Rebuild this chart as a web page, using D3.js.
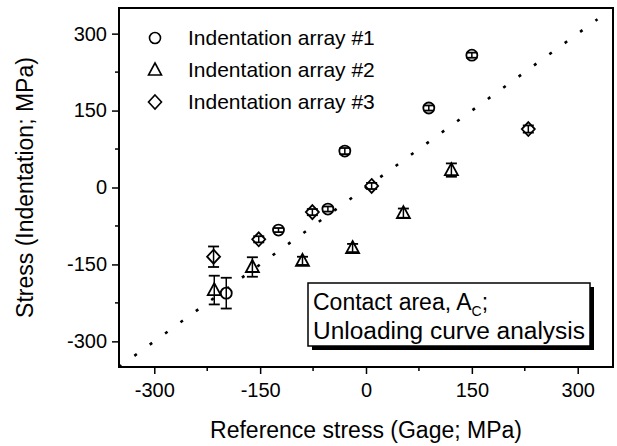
<!DOCTYPE html>
<html>
<head>
<meta charset="utf-8">
<script src="https://cdn.jsdelivr.net/npm/d3@7/dist/d3.min.js"></script>
<style>
  body { margin: 0; background: #fff; }
  svg { display: block; font-family: "Liberation Sans", Arial, sans-serif; }
</style>
</head>
<body>
<svg id="chart" width="617" height="446"></svg>
<script>
// data (MPa)
var seriesNames = ["Indentation array #1", "Indentation array #2", "Indentation array #3"];
var array1X = [150, 89, -30, -54, -124, -198];
var array1Y = [258, 155, 71, -42, -83, -206];
var array1Err = [5, 5, 6, 5, 4, 30];
var array2X = [121, 53, -19, -90, -161, -215];
var array2Y = [34, -50, -118, -143, -155, -200];
var array2Err = [13, 9, 8, 8, 19, 28];
var array3X = [230, 8, -76, -152, -216];
var array3Y = [114, 3, -48, -101, -135];
var array3Err = [7, 6, 6, 6, 20];
var tickValues = [-300, -150, 0, 150, 300];
var minorTicks = [-225, -75, 75, 225];
var xTitle = "Reference stress (Gage; MPa)";
var yTitle = "Stress (Indentation; MPa)";

var svg = d3.select("#chart");
// plot area edges
var pLeft = 119, pRight = 613, pTop = 8, pBottom = 367;

var x = d3.scaleLinear().domain([-350, 350]).range([pLeft, pRight]);
var y = d3.scaleLinear().domain([-350, 350]).range([pBottom, pTop]);

// marker shapes
var shapes = {
  circle: "M5.5,0A5.5,5.5 0 1,1 -5.5,0A5.5,5.5 0 1,1 5.5,0Z",
  triangle: "M0,-7L6.5,5L-6.5,5Z",
  diamond: "M0,-7L6.5,0L0,7L-6.5,0Z"
};

function zip(xs, ys, es) {
  return xs.map(function(v, i) { return { x: v, y: ys[i], e: es[i] }; });
}
var series = [
  { name: seriesNames[0], shape: "circle", pts: zip(array1X, array1Y, array1Err) },
  { name: seriesNames[1], shape: "triangle", pts: zip(array2X, array2Y, array2Err) },
  { name: seriesNames[2], shape: "diamond", pts: zip(array3X, array3Y, array3Err) }
];

// dotted 1:1 line
svg.append("line")
  .attr("x1", x(-350)).attr("y1", y(-350))
  .attr("x2", x(328)).attr("y2", y(328))
  .attr("stroke", "#000")
  .attr("stroke-width", 2.6)
  .attr("stroke-dasharray", "3,16");

// axes with outward ticks
var fmt = function(d) { return String(d); };
var xAxis = svg.append("g")
  .attr("transform", "translate(0," + pBottom + ")")
  .call(d3.axisBottom(x).tickValues(tickValues).tickSize(7).tickPadding(5).tickFormat(fmt));
var yAxis = svg.append("g")
  .attr("transform", "translate(" + pLeft + ",0)")
  .call(d3.axisLeft(y).tickValues(tickValues).tickSize(7).tickPadding(5).tickFormat(fmt));
[xAxis, yAxis].forEach(function(g) {
  g.select(".domain").remove();
  g.selectAll("line").attr("stroke", "#000").attr("stroke-width", 1.5);
  g.selectAll("text").attr("font-size", 20).attr("fill", "#000")
   .attr("font-family", "Liberation Sans, Arial, sans-serif");
});
xAxis.selectAll("text").attr("dy", "0.9em");

// minor ticks
svg.append("g").selectAll("line").data(minorTicks).enter().append("line")
  .attr("x1", function(d) { return x(d); }).attr("x2", function(d) { return x(d); })
  .attr("y1", pBottom).attr("y2", pBottom + 4)
  .attr("stroke", "#000").attr("stroke-width", 1.5);
svg.append("g").selectAll("line").data(minorTicks).enter().append("line")
  .attr("y1", function(d) { return y(d); }).attr("y2", function(d) { return y(d); })
  .attr("x1", pLeft).attr("x2", pLeft - 4)
  .attr("stroke", "#000").attr("stroke-width", 1.5);

// frame
svg.append("rect")
  .attr("x", pLeft).attr("y", pTop)
  .attr("width", pRight - pLeft).attr("height", pBottom - pTop)
  .attr("fill", "none").attr("stroke", "#000").attr("stroke-width", 2);

// points with error bars
series.forEach(function(s) {
  var g = svg.append("g");
  var pts = g.selectAll("g").data(s.pts).enter().append("g")
    .attr("transform", function(d) { return "translate(" + x(d.x) + "," + y(d.y) + ")"; });
  pts.append("path")
    .attr("d", shapes[s.shape])
    .attr("fill", "#fff").attr("stroke", "#000").attr("stroke-width", 1.8);
  pts.append("line")
    .attr("x1", 0).attr("x2", 0)
    .attr("y1", function(d) { return y(d.y + d.e) - y(d.y); })
    .attr("y2", function(d) { return y(d.y - d.e) - y(d.y); })
    .attr("stroke", "#000").attr("stroke-width", 1.5);
  [1, -1].forEach(function(sign) {
    pts.append("line")
      .attr("x1", -5.5).attr("x2", 5.5)
      .attr("y1", function(d) { return y(d.y + sign * d.e) - y(d.y); })
      .attr("y2", function(d) { return y(d.y + sign * d.e) - y(d.y); })
      .attr("stroke", "#000").attr("stroke-width", 1.8);
  });
});

// legend
var legend = svg.append("g").selectAll("g").data(series).enter().append("g")
  .attr("transform", function(d, i) { return "translate(155," + (38 + i * 32) + ")"; });
legend.append("path")
  .attr("d", function(d) { return shapes[d.shape]; })
  .attr("fill", "#fff").attr("stroke", "#000").attr("stroke-width", 1.6);
legend.append("text")
  .attr("x", 33).attr("y", 7)
  .attr("font-size", 21)
  .text(function(d) { return d.name; });

// annotation box with drop shadow
var bx = 308, by = 283, bw = 282, bh = 63;
svg.append("rect").attr("x", bx + 4).attr("y", by + 4).attr("width", bw).attr("height", bh).attr("fill", "#000");
svg.append("rect").attr("x", bx).attr("y", by).attr("width", bw).attr("height", bh)
  .attr("fill", "#fff").attr("stroke", "#000").attr("stroke-width", 1.5);
var t1 = svg.append("text").attr("x", bx + 5).attr("y", by + 27).attr("font-size", 23);
t1.append("tspan").text("Contact area, A");
t1.append("tspan").attr("font-size", 14).attr("dy", 6).text("C");
t1.append("tspan").attr("dy", -6).text(";");
svg.append("text").attr("x", bx + 5).attr("y", by + 56).attr("font-size", 23)
  .attr("textLength", 272).attr("lengthAdjust", "spacingAndGlyphs")
  .text("Unloading curve analysis");

// axis titles
svg.append("text")
  .attr("x", (pLeft + pRight) / 2).attr("y", 438)
  .attr("text-anchor", "middle").attr("font-size", 23)
  .text(xTitle);
svg.append("text")
  .attr("transform", "translate(33," + ((pTop + pBottom) / 2) + ") rotate(-90)")
  .attr("text-anchor", "middle").attr("font-size", 23)
  .text(yTitle);
</script>
</body>
</html>
